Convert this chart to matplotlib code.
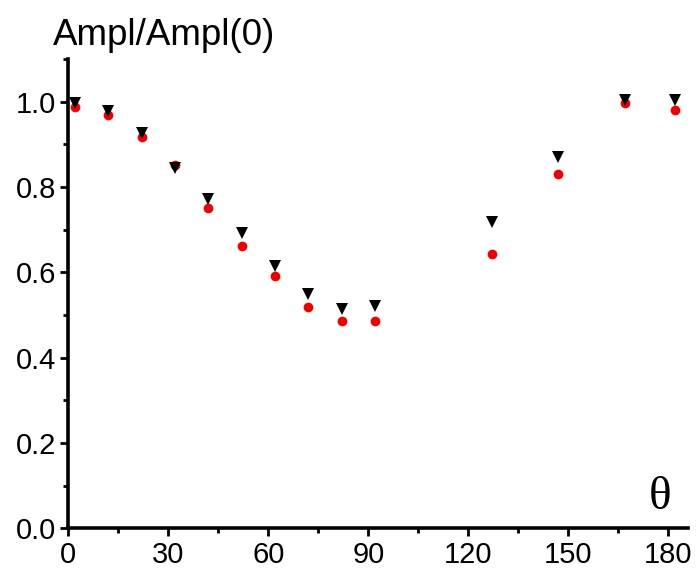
import numpy as np
import matplotlib
matplotlib.use("Agg")
import matplotlib.pyplot as plt
from matplotlib.ticker import MultipleLocator
from matplotlib import font_manager

names = {f.name for f in font_manager.fontManager.ttflist}
tick_font = 'Liberation Sans Narrow' if 'Liberation Sans Narrow' in names else 'Liberation Sans'
plt.rcParams['font.family'] = ['Liberation Sans', 'DejaVu Sans']

theta = [2, 12, 22, 32, 42, 52, 62, 72, 82, 92, 127, 147, 167, 182]
ampl_tri = [0.997, 0.978, 0.927, 0.845, 0.773, 0.692, 0.614, 0.549, 0.514, 0.522, 0.718, 0.871, 1.005, 1.004]
ampl_dot = [0.989, 0.970, 0.917, 0.853, 0.751, 0.663, 0.591, 0.520, 0.485, 0.485, 0.644, 0.830, 0.997, 0.980]

fig = plt.figure(figsize=(6.96, 5.77), dpi=100)
ax = fig.add_axes([0.0981, 0.0844, 0.891, 0.813])

ax.plot(theta, ampl_dot, 'o', color='#ee0000', markersize=7, markeredgewidth=0, zorder=3)
ax.plot(theta, ampl_tri, 'v', color='black', markersize=8.5, markeredgewidth=0, zorder=4)

ax.set_xlim(0, 186)
ax.set_ylim(0, 1.1)
ax.xaxis.set_major_locator(MultipleLocator(30))
ax.xaxis.set_minor_locator(MultipleLocator(15))
ax.yaxis.set_major_locator(MultipleLocator(0.2))
ax.yaxis.set_minor_locator(MultipleLocator(0.1))
ax.yaxis.set_major_formatter(plt.FuncFormatter(lambda v, p: f"{v:.1f}"))

for s in ['top', 'right']:
    ax.spines[s].set_visible(False)
for s in ['left', 'bottom']:
    ax.spines[s].set_linewidth(2.6)

ax.tick_params(which='major', direction='out', length=6, width=2, labelsize=21, pad=3)
ax.tick_params(which='minor', direction='out', length=3.5, width=2)
for lab in ax.get_xticklabels() + ax.get_yticklabels():
    lab.set_family([tick_font, 'DejaVu Sans'])

fig.text(53 / 696, 1 - 45 / 577, 'Ampl/Ampl(0)', fontsize=26.5, va='baseline', ha='left')
ax.text(0.955, 0.065, 'θ', transform=ax.transAxes, fontsize=34,
        family=['Liberation Serif', 'DejaVu Serif'], ha='center', va='center')

fig.savefig('out.png', dpi=100, facecolor='white')
